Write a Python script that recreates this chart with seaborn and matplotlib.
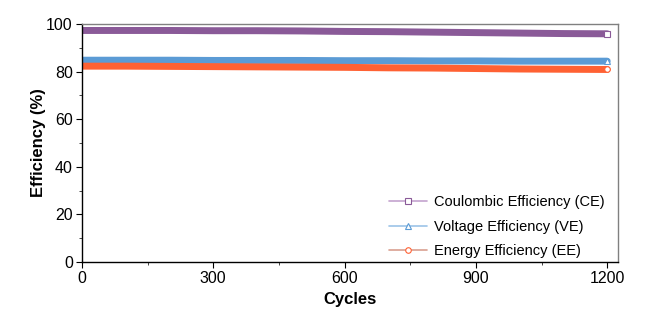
import matplotlib
matplotlib.use("Agg")
import matplotlib.pyplot as plt
from matplotlib.lines import Line2D
from matplotlib.ticker import MultipleLocator
import pandas as pd
import seaborn as sns

# Efficiency over cycling, sampled every 100 cycles
cycles = [0, 100, 200, 300, 400, 500, 600, 700, 800, 900, 1000, 1100, 1200]
coulombic = [97.3, 97.3, 97.3, 97.2, 97.2, 97.1, 96.9, 96.8, 96.6, 96.4, 96.2, 96.0, 95.9]
voltage = [84.8, 84.8, 84.8, 84.7, 84.7, 84.7, 84.6, 84.6, 84.5, 84.5, 84.4, 84.4, 84.4]
energy = [82.3, 82.3, 82.2, 82.1, 82.0, 81.9, 81.8, 81.6, 81.5, 81.3, 81.1, 81.0, 80.9]

series_names = ["Coulombic Efficiency (CE)", "Voltage Efficiency (VE)", "Energy Efficiency (EE)"]
colors = ["#8A5A98", "#5B9BD5", "#FF6133"]
legend_colors = ["#C4A3CE", "#9CC3E8", "#D9A090"]
markers = ["s", "^", "o"]

df = pd.concat(
    [pd.DataFrame({"Cycle": cycles, "Efficiency": vals, "Series": name})
     for name, vals in zip(series_names, [coulombic, voltage, energy])],
    ignore_index=True,
)

sns.set_theme(style="white")
plt.rcParams["font.family"] = ["Liberation Sans", "DejaVu Sans"]
plt.rcParams["text.color"] = "black"
plt.rcParams["axes.labelcolor"] = "black"

fig = plt.figure(figsize=(6.5, 3.25), dpi=100)
ax = fig.add_axes([0.126, 0.194, 0.825, 0.732])

sns.lineplot(data=df, x="Cycle", y="Efficiency", hue="Series",
             palette=dict(zip(series_names, colors)), linewidth=5,
             legend=False, ax=ax)

# open marker on the final cycle of each series
for vals, c, m in zip([coulombic, voltage, energy], colors, markers):
    ax.plot(cycles[-1], vals[-1], marker=m, ms=4, mfc="white", mec=c,
            mew=0.8, ls="none", zorder=5)

ax.set_xlim(0, 1225)
ax.set_ylim(0, 100)
ax.xaxis.set_major_locator(MultipleLocator(300))
ax.xaxis.set_minor_locator(MultipleLocator(150))
ax.yaxis.set_major_locator(MultipleLocator(20))
ax.yaxis.set_minor_locator(MultipleLocator(10))
ax.tick_params(axis="both", which="major", direction="out", length=4, width=0.8,
               labelsize=11.5, colors="black", bottom=True, left=True, pad=2.5)
ax.tick_params(axis="both", which="minor", direction="out", length=2, width=0.6,
               bottom=True, left=True)
for side in ["left", "bottom"]:
    ax.spines[side].set_color("black")
    ax.spines[side].set_linewidth(1.0)
for side in ["top", "right"]:
    ax.spines[side].set_color("#808080")
    ax.spines[side].set_linewidth(1.0)

ax.set_xlabel("Cycles", fontsize=12, fontweight="bold", labelpad=4)
ax.set_ylabel("Efficiency (%)", fontsize=12, fontweight="bold", labelpad=0)

handles = [Line2D([0], [0], color=lc, lw=1.2, marker=m, ms=4, mfc="white",
                  mec=c, mew=0.8)
           for lc, c, m in zip(legend_colors, colors, markers)]
ax.legend(handles, series_names, loc="lower right", frameon=False, fontsize=10.5,
          handlelength=2.6, handletextpad=0.5, labelspacing=0.7,
          bbox_to_anchor=(1.0, -0.038))

fig.savefig("out.png", dpi=100)
